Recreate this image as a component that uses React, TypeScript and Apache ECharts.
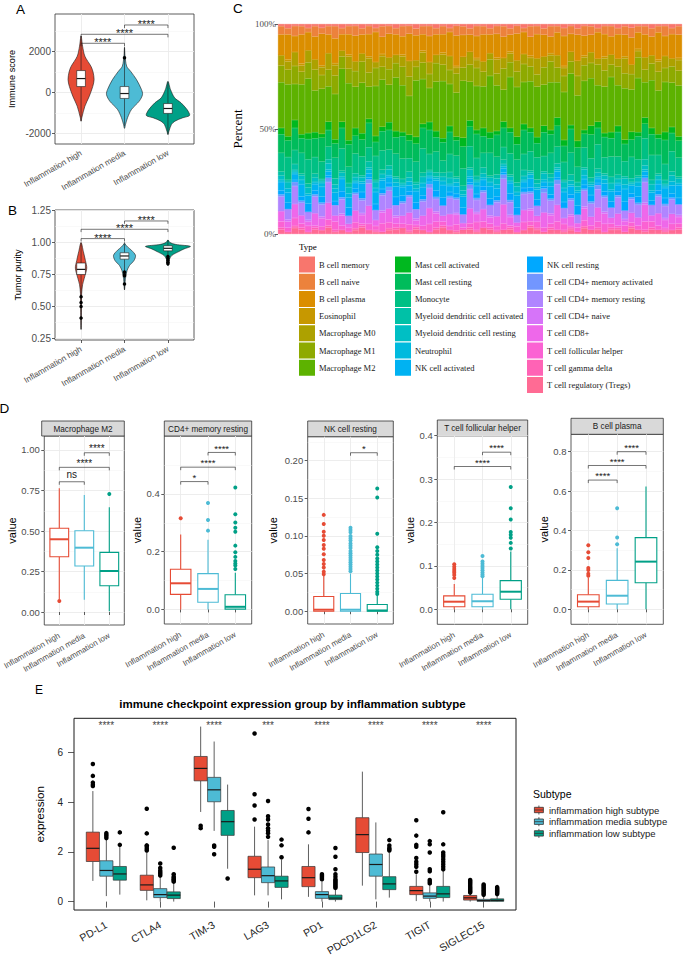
import React, { useEffect, useRef } from 'react';
import * as echarts from 'echarts';

const SANS = '"Liberation Sans", Arial, Helvetica, sans-serif';
const SERIF = '"Liberation Serif", "Times New Roman", serif';
const AXIS_TEXT = '#4D4D4D';

// ---------------- shared groups ----------------
const GROUPS = ['Inflammation high', 'Inflammation media', 'Inflammation low'];
const GROUP_COLORS = ['#E64B35', '#4DBBD5', '#00A087'];
const GROUP_X = [1, 2, 3];

// ---------------- Panel A : immune score ----------------
const A_Y_MAJOR = [-2000, 0, 2000];
const A_Y_MINOR = [-1000, 1000, 3000];
const A_VIOLIN_Y = [
  [2750, 2260, 1770, 1270, 1000, 630, 300, -180, -670, -1220, -1400],
  [2200, 1800, 1280, 1040, 630, 150, -100, -420, -830, -1230, -1560, -1750],
  [540, 150, -260, -500, -830, -1070, -1150, -1230, -1400, -1560, -1890, -2050],
];
const A_VIOLIN_W = [
  [0, 0.035, 0.088, 0.23, 0.276, 0.3, 0.27, 0.19, 0.088, 0.018, 0],
  [0, 0.012, 0.05, 0.138, 0.276, 0.39, 0.415, 0.34, 0.16, 0.07, 0.023, 0],
  [0, 0.058, 0.154, 0.3, 0.44, 0.5, 0.484, 0.346, 0.16, 0.08, 0.023, 0],
];
const A_BOX = [
  [-1400, 290, 680, 1070, 2750],
  [-1640, -290, -50, 290, 2200],
  [-2050, -1020, -780, -540, 540],
];
const A_OUTLIERS = [[], [1700], []];
const A_SIG_PAIRS = [[1, 2], [1, 3], [2, 3]];
const A_SIG_Y = [2400, 2839, 3293];
const A_SIG_LABELS = ['****', '****', '****'];

// ---------------- Panel B : tumor purity ----------------
const B_Y_MAJOR = [0.25, 0.5, 0.75, 1.0, 1.25];
const B_Y_MINOR = [0.375, 0.625, 0.875, 1.125];
const B_VIOLIN_Y = [
  [1.0, 0.93, 0.86, 0.8, 0.72, 0.67, 0.6, 0.45, 0.32],
  [1.0, 0.99, 0.966, 0.94, 0.9, 0.86, 0.82, 0.78, 0.72, 0.63],
  [1.02, 1.0, 0.985, 0.97, 0.95, 0.93, 0.9, 0.87, 0.82],
];
const B_VIOLIN_W = [
  [0, 0.053, 0.1, 0.131, 0.074, 0.035, 0.014, 0.007, 0],
  [0, 0.01, 0.07, 0.16, 0.253, 0.22, 0.115, 0.058, 0.023, 0],
  [0, 0.046, 0.184, 0.518, 0.37, 0.253, 0.092, 0.035, 0],
];
const B_BOX = [
  [0.32, 0.75, 0.79, 0.84, 1.0],
  [0.63, 0.87, 0.895, 0.92, 0.99],
  [0.82, 0.935, 0.955, 0.975, 1.02],
];
const B_OUTLIERS = [[0.575, 0.53, 0.5, 0.41], [0.676, 0.74, 0.75, 0.77], [0.89, 0.875, 0.86, 0.845, 0.835]];
const B_SIG_PAIRS = [[1, 2], [1, 3], [2, 3]];
const B_SIG_Y = [1.031, 1.104, 1.169];
const B_SIG_LABELS = ['****', '****', '****'];

// ---------------- Panel C : cell fractions ----------------
const C_TYPES = [
  'B cell memory', 'B cell naive', 'B cell plasma', 'Eosinophil', 'Macrophage M0', 'Macrophage M1', 'Macrophage M2',
  'Mast cell activated', 'Mast cell resting', 'Monocyte', 'Myeloid dendritic cell activated', 'Myeloid dendritic cell resting', 'Neutrophil', 'NK cell activated',
  'NK cell resting', 'T cell CD4+ memory activated', 'T cell CD4+ memory resting', 'T cell CD4+ naive', 'T cell CD8+', 'T cell follicular helper', 'T cell gamma delta', 'T cell regulatory (Tregs)',
];
const C_COLORS = [
  '#F8766D', '#EC823C', '#DB8E00', '#C79800', '#ADA100', '#8EAA00', '#5DB200',
  '#00B81F', '#00BC5B', '#00C084', '#00C1A7', '#00BFC4', '#00BADE', '#00B2F2',
  '#00A8FF', '#7296FF', '#B085FF', '#D674F9', '#EE68EA', '#FB62D3', '#FF63B5', '#FF6B94',
];
const C_Y_LABELS = [0, 50, 100];
const cBMemory = [1,2,1,1,2,1,2,1,1,2, 1,1,2,1,2,1,1,2,1,1, 2,1,1,2,1,2,1,1,2,1, 1,2,1,1,2,1,2,1,1,2, 1,1,2,1,2,1,1,2,1,1, 2,1,2,1,1,2,1,1,2,1];
const cBNaive = [4,3,5,4,2,5,3,4,6,3, 4,5,3,4,2,5,4,3,5,4, 3,4,5,3,4,2,5,4,3,5, 4,3,4,5,3,4,2,5,4,3, 5,3,4,4,3,5,4,2,4,5, 3,4,5,3,4,4,3,5,3,4];
const cBPlasma = [10,12,8,14,9,11,16,9,12,8, 10,13,9,11,15,8,12,10,9,14, 11,8,13,10,9,12,16,10,8,11, 13,9,12,10,8,14,11,9,12,10, 8,11,15,9,12,10,8,13,11,9, 12,10,14,8,11,9,13,10,12,11];
const cEos = [0,1,0,1,0,0,1,0,1,0, 1,0,0,1,0,1,0,0,1,0, 0,1,0,0,1,0,1,0,0,1, 0,0,1,0,1,0,0,1,0,0, 1,0,1,0,0,1,0,0,1,0, 0,1,0,1,0,0,1,0,0,1];
const cM0 = [5,4,7,3,6,5,4,8,5,3, 6,5,4,7,3,5,6,4,5,8, 3,5,6,4,5,7,3,5,6,4, 5,3,7,5,4,6,5,4,8,5, 3,6,4,5,7,4,5,3,6,5, 4,7,5,3,6,4,5,6,4,5];
const cM1 = [8,7,9,6,8,10,7,8,9,6, 7,8,10,7,9,6,8,7,9,10, 6,8,7,9,8,7,10,6,8,9, 7,8,6,10,7,8,9,7,6,8, 10,7,8,6,9,8,7,10,8,6, 9,7,8,10,6,8,9,7,8,7];
const cM2 = [22,25,18,24,27,20,23,17,22,26, 28,21,24,16,25,22,19,26,23,20, 25,22,17,24,28,21,23,26,18,22, 20,27,23,15,24,26,21,22,25,19, 23,17,24,26,21,25,22,18,23,27, 20,24,22,26,17,23,21,25,22,24];
const cMastAct = [3,2,4,2,3,3,2,4,2,3, 2,4,3,2,3,2,4,3,2,3, 3,2,4,3,2,3,2,4,3,2, 4,3,2,3,2,4,3,2,3,3, 2,4,3,2,3,2,4,3,2,3, 3,2,4,2,3,3,2,4,3,2];
const cMastRest = [9,8,11,7,10,9,12,8,7,10, 11,9,8,12,7,9,10,8,11,9, 8,10,12,7,9,11,8,10,9,12, 8,7,11,9,10,8,12,9,7,11, 9,10,8,12,9,7,11,8,10,9, 12,8,9,11,7,10,8,12,9,8];
const cMono = [9,11,7,10,12,8,9,6,10,11, 8,10,9,7,12,9,8,11,10,7, 9,12,8,10,6,9,11,8,10,9, 7,11,9,6,10,12,8,9,11,7, 10,8,9,11,7,10,9,12,8,10, 9,7,11,8,10,12,9,8,10,9];
const cMyeAct = [2,1,3,1,2,2,1,2,3,1, 2,2,1,3,1,2,2,1,2,3, 1,2,1,2,2,3,1,2,1,2, 3,1,2,2,1,2,3,1,2,1, 2,2,1,3,2,1,2,2,1,3, 2,1,2,1,3,2,1,2,2,1];
const cMyeRest = [2,3,1,2,3,2,1,3,2,2, 3,2,2,1,3,2,3,2,1,2, 2,3,2,1,2,3,2,2,3,1, 2,2,3,1,2,3,2,1,2,3, 2,1,3,2,2,3,1,2,2,3, 2,3,1,2,2,3,2,1,3,2];
const cNeut = [1,2,1,2,1,1,2,1,2,1, 2,1,1,2,2,1,1,2,1,2, 1,2,1,1,2,1,2,1,1,2, 1,2,2,1,1,2,1,2,1,1, 2,1,2,1,1,2,1,1,2,1, 1,2,1,2,1,1,2,1,2,1];
const cNKAct = [4,5,3,6,4,3,5,2,4,6, 5,3,4,2,6,4,3,5,4,3, 5,4,2,5,6,3,4,5,2,4, 3,6,4,2,5,6,3,4,5,2, 4,3,5,4,6,3,4,2,4,5, 3,6,4,5,2,4,3,5,4,6];
const cNKRest = [2,3,1,2,4,2,3,1,2,3, 4,2,3,1,3,2,2,4,3,2, 3,2,1,3,4,2,2,3,1,2, 2,3,2,1,3,4,2,2,3,1, 2,1,3,2,4,2,3,1,2,3, 2,4,2,3,1,2,2,3,2,3];
const cCD4MemAct = [1,0,2,1,0,1,1,2,0,1, 0,1,1,2,0,1,2,0,1,1, 0,1,2,1,0,1,1,0,2,1, 1,0,1,2,1,0,1,1,0,2, 1,2,0,1,0,1,1,2,1,0, 1,0,1,1,2,0,1,1,1,0];
const cCD4MemRest = [7,5,9,6,4,8,6,10,5,7, 4,8,6,11,5,7,9,5,6,8, 4,7,10,6,5,8,7,4,9,6, 8,5,7,12,6,4,8,7,5,9, 6,10,5,7,4,8,6,9,7,5, 8,4,7,6,10,5,8,6,7,5];
const cCD4Naive = [0,1,0,0,1,0,1,0,0,1, 0,0,1,0,0,1,0,1,0,0, 1,0,0,1,0,0,1,0,0,1, 0,1,0,0,1,0,0,1,0,0, 1,0,0,1,0,1,0,0,1,0, 0,1,0,0,1,0,0,1,0,1];
const cCD8 = [5,3,7,4,2,6,4,8,3,5, 2,6,4,9,3,5,7,3,4,6, 2,5,8,4,3,6,5,2,7,4, 6,3,5,9,4,2,6,5,3,7, 4,8,3,5,2,6,4,7,5,3, 6,2,5,4,8,3,6,4,5,3];
const cTfh = [3,2,4,2,3,1,2,3,4,2, 2,3,1,3,2,4,3,2,2,3, 1,2,4,3,2,2,3,1,2,4, 3,2,2,3,1,3,4,2,3,2, 2,4,3,1,2,3,2,3,4,2, 1,3,2,2,4,3,2,1,3,2];
const cTgd = [1,0,1,1,0,1,0,1,1,0, 0,1,1,0,1,0,1,1,0,1, 1,0,0,1,1,0,1,0,1,1, 0,1,1,0,1,0,0,1,1,0, 1,0,1,1,0,1,0,1,0,1, 1,0,1,0,1,1,0,1,0,1];
const cTreg = [2,1,3,2,1,2,2,3,1,2, 1,2,3,2,1,1,2,2,3,1, 2,2,1,2,3,2,1,2,2,1, 3,2,1,2,2,1,2,3,2,1, 2,2,1,2,1,3,2,2,1,2, 2,1,3,2,1,2,2,1,2,2];

// ---------------- Panel D : selected cells ----------------
const D_TITLES = ['Macrophage M2', 'CD4+ memory resting', 'NK cell resting', 'T cell follicular helper', 'B cell plasma'];
const D_BOX = [
  [[0.08, 0.341, 0.449, 0.517, 0.764], [0.075, 0.284, 0.397, 0.502, 0.722], [0.005, 0.162, 0.253, 0.368, 0.646]],
  [[0, 0.052, 0.0905, 0.139, 0.26], [0, 0.025, 0.071, 0.124, 0.241], [0, 0.001, 0.009, 0.051, 0.127]],
  [[0, 0, 0.002, 0.0195, 0.047], [0, 0, 0.002, 0.0235, 0.05], [0, 0, 0.001, 0.009, 0.021]],
  [[0, 0.006, 0.0175, 0.031, 0.058], [0, 0.006, 0.0185, 0.0345, 0.072], [0, 0.023, 0.0405, 0.066, 0.133]],
  [[0, 0.013, 0.039, 0.074, 0.16], [0, 0.027, 0.069, 0.147, 0.31], [0, 0.135, 0.242, 0.364, 0.623]],
];
const D_OUTLIERS = [
  [[0.068], [], [0.728]],
  [[0.316], [0.273, 0.31, 0.369], [0.4226, 0.33, 0.301, 0.283, 0.269, 0.221, 0.198, 0.182, 0.168, 0.159, 0.152, 0.14]],
  [
    [0.128, 0.116, 0.1057, 0.1004, 0.0947, 0.088, 0.083, 0.0757, 0.068, 0.0628, 0.058, 0.0526, 0.049],
    [0.111, 0.108, 0.105, 0.1, 0.097, 0.094, 0.09, 0.087, 0.084, 0.08, 0.077, 0.074, 0.071, 0.068, 0.065, 0.062, 0.059, 0.056, 0.053],
    [0.163, 0.151, 0.103, 0.085, 0.08, 0.075, 0.07, 0.066, 0.062, 0.058, 0.054, 0.05, 0.046, 0.042, 0.038, 0.034, 0.03, 0.026, 0.023],
  ],
  [[0.104, 0.098, 0.093, 0.088, 0.084, 0.079, 0.072], [0.123, 0.11, 0.105, 0.1, 0.095, 0.09, 0.085, 0.08, 0.076], [0.282, 0.233, 0.207, 0.178, 0.172, 0.165, 0.153, 0.14]],
  [[0.325, 0.29, 0.26, 0.21, 0.2, 0.18, 0.17], [0.33, 0.365, 0.513], []],
];
const D_SIG_PAIRS = [[[1, 2], [1, 3], [2, 3]], [[1, 2], [1, 3], [2, 3]], [[2, 3]], [[1, 3], [2, 3]], [[1, 2], [1, 3], [2, 3]]];
const D_SIG_Y = [[0.804, 0.893, 0.983], [0.443, 0.493, 0.544], [0.2106], [0.329, 0.362], [0.656, 0.73, 0.8]];
const D_SIG_LABELS = [['ns', '****', '****'], ['*', '****', '****'], ['*'], ['****', '****'], ['****', '****', '****']];
const D_Y_MAJOR = [[0, 0.25, 0.5, 0.75, 1], [0, 0.2, 0.4], [0, 0.05, 0.1, 0.15, 0.2], [0, 0.1, 0.2, 0.3, 0.4], [0, 0.2, 0.4, 0.6, 0.8]];
const D_Y_MINOR = [[0.125, 0.375, 0.625, 0.875], [0.1, 0.3, 0.5], [0.025, 0.075, 0.125, 0.175, 0.225], [0.05, 0.15, 0.25, 0.35], [0.1, 0.3, 0.5, 0.7]];
const D_Y_DIGITS = [2, 1, 2, 1, 1];

// ---------------- Panel E : immune checkpoints ----------------
const E_GENES = ['PD-L1', 'CTLA4', 'TIM-3', 'LAG3', 'PD1', 'PDCD1LG2', 'TIGIT', 'SIGLEC15'];
const E_SUBTYPES = ['inflammation high subtype', 'inflammation media subtype', 'inflammation low subtype'];
const E_Y_MAJOR = [0, 2, 4, 6];
const E_BOX_HIGH = [
  [0.83, 1.61, 2.14, 2.79, 4.44], [0.05, 0.45, 0.67, 1.06, 1.97], [3.6, 4.85, 5.35, 5.83, 7.03], [0.25, 0.96, 1.3, 1.82, 3.01],
  [0.19, 0.6, 0.96, 1.41, 2.3], [0.64, 1.97, 2.69, 3.37, 5.22], [0.02, 0.28, 0.44, 0.61, 1.1], [0, 0.06, 0.15, 0.245, 0.33],
];
const E_BOX_MEDIA = [
  [0.22, 1.02, 1.25, 1.64, 2.5], [0, 0.16, 0.28, 0.52, 1.0], [2.84, 4.01, 4.49, 4.99, 6.43], [0.25, 0.76, 1.04, 1.39, 2.47],
  [0, 0.13, 0.28, 0.4, 0.8], [0.09, 1.02, 1.49, 1.91, 3.18], [0, 0.13, 0.22, 0.35, 0.66], [0, 0.01, 0.04, 0.09, 0.2],
];
const E_BOX_LOW = [
  [0.28, 0.86, 1.11, 1.41, 2.2], [0, 0.12, 0.26, 0.39, 0.78], [1.32, 2.66, 3.21, 3.66, 4.7], [0.09, 0.57, 0.83, 1.02, 1.69],
  [0, 0.08, 0.14, 0.26, 0.52], [0.16, 0.48, 0.71, 1.0, 1.97], [0, 0.16, 0.31, 0.61, 1.26], [0, 0.01, 0.05, 0.11, 0.25],
];
const E_OUT_HIGH = [
  [5.53, 5.05, 4.78, 4.7, 4.64], [3.73, 2.74, 2.26, 2.2, 2.12, 2.05], [3.05, 2.95], [6.75, 4.31, 3.86, 3.3],
  [3.72, 3.33, 2.78], [], [3.27, 2.65, 2.28, 2.2, 1.75, 1.6, 1.5, 1.4, 1.2], [0.87, 0.82, 0.77, 0.72, 0.66, 0.6, 0.55, 0.5, 0.45, 0.4, 0.36],
];
const E_OUT_MEDIA = [
  [2.75, 2.68, 2.62, 2.55], [1.53, 1.35, 1.25, 1.18, 1.12, 1.05], [2.25, 2.2, 1.9], [4.04, 3.43, 3.3, 3.1, 2.95, 2.85, 2.75, 2.6],
  [1.1, 1.05, 1.0, 0.95, 0.9], [], [2.43, 2.3, 1.97, 1.3, 1.22, 0.87, 0.8, 0.73], [0.69, 0.64, 0.58, 0.53, 0.47, 0.42, 0.37, 0.32, 0.27],
];
const E_OUT_LOW = [
  [2.78, 2.28], [2.16, 1.1, 1.0, 0.95, 0.9, 0.85, 0.8], [0.93], [2.49, 2.26, 1.78],
  [2.15, 1.8, 1.3, 1.1, 1.0, 0.9, 0.85, 0.8, 0.75, 0.7, 0.65, 0.6, 0.55], [2.47, 2.25, 2.15, 2.1, 2.05],
  [3.59, 2.3, 1.97, 1.88, 1.8, 1.7, 1.6, 1.5, 1.4, 1.3], [0.58, 0.54, 0.5, 0.46, 0.42, 0.38, 0.34, 0.3],
];
const E_SIG_LABELS = ['****', '****', '****', '***', '****', '****', '****', '****'];
const E_SIG_Y = 7.17;

// ---------------- layout (pixels) ----------------
const D_LAYOUT = [
  { l: 41.7, r: 124.3, t: 436, b: 625, ymin: -0.0802, ymax: 1.0864, st: 421, gap: 26.2 },
  { l: 164.3, r: 251.7, t: 436, b: 624, ymin: -0.0506, ymax: 0.601, st: 421, gap: 20 },
  { l: 307.7, r: 393.3, t: 436.7, b: 624, ymin: -0.017, ymax: 0.2319, st: 421, gap: 28.9 },
  { l: 437.3, r: 527.7, t: 435.7, b: 624.3, ymin: -0.0346, ymax: 0.4, st: 420, gap: 20.1 },
  { l: 571, r: 663.3, t: 434.3, b: 624.3, ymin: -0.0761, ymax: 0.8883, st: 418.3, gap: 22 },
];

function buildOption() {
  const grid: any[] = [];
  const xAxis: any[] = [];
  const yAxis: any[] = [];
  const series: any[] = [];
  const graphic: any[] = [];

  const addPanel = (s: any) => {
    const gi = grid.length;
    grid.push({
      left: s.l, top: s.t, width: s.r - s.l, height: s.b - s.t, show: true,
      backgroundColor: '#FFFFFF', borderColor: s.border, borderWidth: s.borderWidth,
    });
    const xi = xAxis.length;
    xAxis.push({
      gridIndex: gi, type: 'value', min: s.xmin, max: s.xmax,
      axisLine: { show: false },
      axisTick: { show: true, customValues: s.xTicks, length: s.tickLen, lineStyle: { color: '#333333', width: 0.8 } },
      axisLabel: {
        customValues: s.xTicks, formatter: (v: number) => s.xLabels[Math.round(v) - 1] || '',
        rotate: s.xRotate, fontSize: s.xFont, color: s.xColor, margin: s.xMargin, fontFamily: SANS,
      },
      splitLine: { show: s.grid, customValues: s.xTicks, lineStyle: { color: '#EBEBEB', width: 0.9 } },
    });
    yAxis.push({
      gridIndex: gi, type: 'value', position: 'left', min: s.ymin, max: s.ymax,
      axisLine: { show: false },
      axisTick: { show: false, customValues: s.yMinor },
      axisLabel: { show: false, customValues: s.yMinor },
      splitLine: { show: s.grid && s.yMinor.length > 0, customValues: s.yMinor, lineStyle: { color: '#F2F2F2', width: 0.5 } },
    });
    const yi = yAxis.length;
    yAxis.push({
      gridIndex: gi, type: 'value', position: 'left', min: s.ymin, max: s.ymax,
      name: s.yName, nameLocation: 'middle', nameGap: s.yNameGap,
      nameTextStyle: { fontSize: s.yNameFont, color: '#000000', fontFamily: SANS },
      axisLine: { show: false },
      axisTick: { show: true, customValues: s.yMajor, length: s.tickLen, lineStyle: { color: '#333333', width: 0.8 } },
      axisLabel: { customValues: s.yMajor, formatter: s.yFmt, fontSize: s.yFont, color: s.yColor, margin: s.yMargin, fontFamily: SANS },
      splitLine: { show: s.grid, customValues: s.yMajor, lineStyle: { color: '#EBEBEB', width: 0.9 } },
    });
    return { xi, yi };
  };

  const violinSeries = (p: any, ys: number[][], ws: number[][]) => ({
    type: 'custom', xAxisIndex: p.xi, yAxisIndex: p.yi, silent: true,
    data: GROUP_X.map((x) => [x, 0]),
    renderItem: (params: any, api: any) => {
      const i = params.dataIndex;
      const x = api.value(0);
      const pts: number[][] = ys[i].map((y, k) => api.coord([x + ws[i][k], y]));
      for (let k = ys[i].length - 1; k >= 0; k--) {
        if (ws[i][k] > 0) pts.push(api.coord([x - ws[i][k], ys[i][k]]));
      }
      return { type: 'polygon', shape: { points: pts, smooth: 0.3 }, style: { fill: GROUP_COLORS[i], stroke: '#1A1A1A', lineWidth: 0.6 } };
    },
  });

  const boxSeries = (p: any, xs: number[], stats: number[][], hw: number, st: (i: number) => any, extra: any = {}) => ({
    type: 'custom', xAxisIndex: p.xi, yAxisIndex: p.yi, silent: true,
    data: stats.map((s, i) => [xs[i], ...s]),
    renderItem: (params: any, api: any) => {
      const x = api.value(0);
      const lo = api.value(1), q1 = api.value(2), md = api.value(3), q3 = api.value(4), hi = api.value(5);
      const s = st(params.dataIndex);
      const pLo = api.coord([x, lo]), pQ1 = api.coord([x, q1]), pQ3 = api.coord([x, q3]), pHi = api.coord([x, hi]);
      const a = api.coord([x - hw, q3]), b = api.coord([x + hw, q1]);
      const m1 = api.coord([x - hw, md]), m2 = api.coord([x + hw, md]);
      return {
        type: 'group',
        children: [
          { type: 'line', shape: { x1: pLo[0], y1: pLo[1], x2: pQ1[0], y2: pQ1[1] }, style: { stroke: s.line, lineWidth: s.lw } },
          { type: 'line', shape: { x1: pQ3[0], y1: pQ3[1], x2: pHi[0], y2: pHi[1] }, style: { stroke: s.line, lineWidth: s.lw } },
          { type: 'rect', shape: { x: a[0], y: a[1], width: b[0] - a[0], height: b[1] - a[1] }, style: { fill: s.fill, stroke: s.border, lineWidth: s.lw } },
          { type: 'line', shape: { x1: m1[0], y1: m1[1], x2: m2[0], y2: m2[1] }, style: { stroke: s.median, lineWidth: s.mlw } },
        ],
      };
    },
    ...extra,
  });

  const pointSeries = (p: any, pts: number[][], color: string, size: number) => ({
    type: 'scatter', xAxisIndex: p.xi, yAxisIndex: p.yi, silent: true,
    symbol: 'circle', symbolSize: size, itemStyle: { color, opacity: 1 }, data: pts, z: 4,
  });

  const bracketSeries = (p: any, pairs: number[][], ys: number[], labels: string[], tip: number, fs: number, gapPx: number) => ({
    type: 'custom', xAxisIndex: p.xi, yAxisIndex: p.yi, silent: true, z: 6,
    data: pairs.map((pr, i) => [pr[0], pr[1], ys[i]]),
    renderItem: (params: any, api: any) => {
      const lab = labels[params.dataIndex];
      const x1 = api.value(0), x2 = api.value(1), y = api.value(2);
      const p1 = api.coord([x1, y]), p2 = api.coord([x2, y]);
      const d1 = api.coord([x1, y - tip]), d2 = api.coord([x2, y - tip]);
      const ast = lab.indexOf('*') >= 0;
      const ctr = p1[1] - gapPx;
      const ty = ast ? ctr + 0.23 * fs : ctr - 0.09 * fs;
      return {
        type: 'group',
        children: [
          { type: 'polyline', shape: { points: [d1, p1, p2, d2] }, style: { stroke: '#1A1A1A', lineWidth: 0.6, fill: 'none' } },
          {
            type: 'text', x: (p1[0] + p2[0]) / 2, y: ty,
            style: { text: lab, fontSize: fs, fontFamily: SANS, fill: '#1A1A1A', align: 'center', verticalAlign: 'middle', textAlign: 'center', textVerticalAlign: 'middle' },
          },
        ],
      };
    },
  });

  const outlierPoints = (xs: number[], outs: number[][]) => {
    const pts: number[][] = [];
    outs.forEach((arr, i) => arr.forEach((v) => pts.push([xs[i], v])));
    return pts;
  };

  // ---------- Panel A ----------
  const pa = addPanel({
    l: 55, r: 194, t: 14, b: 144, xmin: 0.4, xmax: 3.6, ymin: -2512, ymax: 3829,
    xTicks: GROUP_X, xLabels: GROUPS, xFont: 8.3, xMargin: 8, xColor: AXIS_TEXT, xRotate: 30,
    yMajor: A_Y_MAJOR, yMinor: A_Y_MINOR, yFmt: (v: number) => String(v), yFont: 10, yColor: AXIS_TEXT, yMargin: 4,
    yName: 'Immune score', yNameGap: 38.7, yNameFont: 9.2, grid: true, border: '#333333', borderWidth: 0.8, tickLen: 3,
  });
  series.push(violinSeries(pa, A_VIOLIN_Y, A_VIOLIN_W));
  const abStyle = () => ({ fill: '#FFFFFF', border: '#1A1A1A', line: '#1A1A1A', lw: 0.6, median: '#1A1A1A', mlw: 1.2 });
  series.push(boxSeries(pa, GROUP_X, A_BOX, 0.1, abStyle));
  series.push(pointSeries(pa, outlierPoints(GROUP_X, A_OUTLIERS), '#000000', 3.5));
  series.push(bracketSeries(pa, A_SIG_PAIRS, A_SIG_Y, A_SIG_LABELS, 150, 11, 3.5));

  // ---------- Panel B ----------
  const pb = addPanel({
    l: 55, r: 194, t: 210, b: 340, xmin: 0.4, xmax: 3.6, ymin: 0.237, ymax: 1.255,
    xTicks: GROUP_X, xLabels: GROUPS, xFont: 8.3, xMargin: 8, xColor: AXIS_TEXT, xRotate: 30,
    yMajor: B_Y_MAJOR, yMinor: B_Y_MINOR, yFmt: (v: number) => v.toFixed(2), yFont: 10, yColor: AXIS_TEXT, yMargin: 4,
    yName: 'Tumor purity', yNameGap: 32.9, yNameFont: 9.2, grid: true, border: '#333333', borderWidth: 0.8, tickLen: 3,
  });
  series.push(violinSeries(pb, B_VIOLIN_Y, B_VIOLIN_W));
  series.push(boxSeries(pb, GROUP_X, B_BOX, 0.1, abStyle));
  series.push(pointSeries(pb, outlierPoints(GROUP_X, B_OUTLIERS), '#000000', 3.5));
  series.push(bracketSeries(pb, B_SIG_PAIRS, B_SIG_Y, B_SIG_LABELS, 0.022, 11, 3.5));

  // ---------- Panel C ----------
  const cData = [cBMemory, cBNaive, cBPlasma, cEos, cM0, cM1, cM2, cMastAct, cMastRest, cMono, cMyeAct, cMyeRest, cNeut, cNKAct,
    cNKRest, cCD4MemAct, cCD4MemRest, cCD4Naive, cCD8, cTfh, cTgd, cTreg];
  const nSamples = cBMemory.length;
  const totals = cBMemory.map((_, j) => cData.reduce((acc, arr) => acc + arr[j], 0));
  const cgi = grid.length;
  grid.push({ left: 278, top: 24, width: 404, height: 210, show: false });
  const cxi = xAxis.length;
  xAxis.push({ gridIndex: cgi, type: 'category', data: cBMemory.map((_, j) => 'S' + (j + 1)), show: false, boundaryGap: true });
  const cyi = yAxis.length;
  yAxis.push({
    gridIndex: cgi, type: 'value', min: 0, max: 100, interval: 50,
    name: 'Percent', nameLocation: 'middle', nameGap: 24.8, nameTextStyle: { fontFamily: SERIF, fontSize: 13, color: '#000000' },
    axisLine: { show: false }, splitLine: { show: false },
    axisTick: { show: true, customValues: C_Y_LABELS, length: 3, lineStyle: { color: '#333333', width: 0.8 } },
    axisLabel: { customValues: C_Y_LABELS, formatter: (v: number) => v + '%', fontFamily: SERIF, fontSize: 9, color: AXIS_TEXT, margin: 2 },
  });
  for (let k = C_TYPES.length - 1; k >= 0; k--) {
    series.push({
      type: 'bar', name: C_TYPES[k], stack: 'cells', xAxisIndex: cxi, yAxisIndex: cyi, silent: true,
      barCategoryGap: '0%', barGap: '0%',
      itemStyle: { color: C_COLORS[k], borderColor: C_COLORS[k], borderWidth: 0.3 },
      data: cData[k].map((v, j) => (v / totals[j]) * 100),
    });
  }
  void nSamples;

  // ---------- Panel D ----------
  D_LAYOUT.forEach((L, d) => {
    const digits = D_Y_DIGITS[d];
    const pd = addPanel({
      l: L.l, r: L.r, t: L.t, b: L.b, xmin: 0.4, xmax: 3.6, ymin: L.ymin, ymax: L.ymax,
      xTicks: GROUP_X, xLabels: GROUPS, xFont: 8, xMargin: 10, xColor: AXIS_TEXT, xRotate: 30,
      yMajor: D_Y_MAJOR[d], yMinor: D_Y_MINOR[d], yFmt: (v: number) => v.toFixed(digits), yFont: 9.5, yColor: AXIS_TEXT, yMargin: 4.5,
      yName: 'value', yNameGap: L.gap, yNameFont: 11, grid: true, border: '#333333', borderWidth: 0.8, tickLen: 3,
    });
    const span = L.ymax - L.ymin;
    series.push(boxSeries(pd, GROUP_X, D_BOX[d], 0.375, (i: number) => ({
      fill: '#FFFFFF', border: GROUP_COLORS[i], line: GROUP_COLORS[i], lw: 1.1, median: GROUP_COLORS[i], mlw: 2,
    })));
    D_OUTLIERS[d].forEach((arr, i) => {
      series.push(pointSeries(pd, arr.map((v) => [GROUP_X[i], v]), GROUP_COLORS[i], 4));
    });
    series.push(bracketSeries(pd, D_SIG_PAIRS[d], D_SIG_Y[d], D_SIG_LABELS[d], span * 0.016, D_SIG_LABELS[d][0] === 'ns' ? 10 : 9.5, 6.5));
    graphic.push({
      type: 'rect', shape: { x: L.l, y: L.st, width: L.r - L.l, height: L.t - L.st },
      style: { fill: '#D9D9D9', stroke: '#333333', lineWidth: 0.8 }, silent: true,
    });
    graphic.push({
      type: 'text', x: (L.l + L.r) / 2, y: (L.st + L.t) / 2 + 0.5,
      style: { text: D_TITLES[d], fontSize: 8.2, fontFamily: SANS, fill: '#1A1A1A', textAlign: 'center', textVerticalAlign: 'middle', align: 'center', verticalAlign: 'middle' },
      silent: true,
    });
  });

  // ---------- Panel E ----------
  const E_X = E_GENES.map((_, i) => i + 1);
  const pe = addPanel({
    l: 74, r: 516, t: 718.3, b: 916, xmin: 0.4, xmax: 8.6, ymin: -0.339, ymax: 7.363,
    xTicks: E_X, xLabels: E_GENES, xFont: 10.5, xMargin: 14, xColor: '#222222', xRotate: 30,
    yMajor: E_Y_MAJOR, yMinor: [], yFmt: (v: number) => String(v), yFont: 10, yColor: '#222222', yMargin: 11,
    yName: 'expression', yNameGap: 29, yNameFont: 11.7, grid: false, border: '#1A1A1A', borderWidth: 1, tickLen: 6,
  });
  const eBoxes = [E_BOX_HIGH, E_BOX_MEDIA, E_BOX_LOW];
  const eOuts = [E_OUT_HIGH, E_OUT_MEDIA, E_OUT_LOW];
  const offsets = [-0.25, 0, 0.25];
  eBoxes.forEach((stats, s) => {
    const xs = E_X.map((x) => x + offsets[s]);
    series.push(boxSeries(pe, xs, stats, 0.122, () => ({
      fill: GROUP_COLORS[s], border: '#333333', line: '#1A1A1A', lw: 0.7, median: '#1A1A1A', mlw: 1.2,
    }), { name: E_SUBTYPES[s], itemStyle: { color: GROUP_COLORS[s] } }));
  });
  eOuts.forEach((outs, s) => {
    const xs = E_X.map((x) => x + offsets[s]);
    series.push(pointSeries(pe, outlierPoints(xs, outs), '#000000', 4.5));
  });
  series.push({
    type: 'custom', xAxisIndex: pe.xi, yAxisIndex: pe.yi, silent: true, z: 6,
    data: E_X.map((x) => [x, E_SIG_Y]),
    renderItem: (params: any, api: any) => {
      const pt = api.coord([api.value(0), api.value(1)]);
      return {
        type: 'text', x: pt[0], y: pt[1] + 2.3,
        style: { text: E_SIG_LABELS[params.dataIndex], fontSize: 10, fontFamily: SANS, fill: '#444444', align: 'center', verticalAlign: 'middle', textAlign: 'center', textVerticalAlign: 'middle' },
      };
    },
  });

  // ---------- texts ----------
  const txt = (text: string, x: number, y: number, fs: number, extra: any = {}) => ({
    type: 'text', x, y, silent: true,
    style: { text, fontSize: fs, fontFamily: SANS, fill: '#000000', textAlign: 'left', textVerticalAlign: 'middle', align: 'left', verticalAlign: 'middle', ...extra },
  });
  graphic.push(txt('A', 16, 9.5, 13.5));
  graphic.push(txt('B', 8, 210, 13.5));
  graphic.push(txt('C', 233, 8.5, 13.5));
  graphic.push(txt('D', -0.5, 408.3, 13.5));
  graphic.push(txt('E', 35, 690.3, 12));
  graphic.push(txt('Type', 299, 247, 9, { fontFamily: SERIF }));
  graphic.push(txt('immune checkpoint expression group by inflammation subtype', 292.5, 704.3, 11.5, { fontWeight: 'bold', textAlign: 'center', align: 'center' }));
  graphic.push(txt('Subtype', 533, 794, 10.5));

  const legendCols = [C_TYPES.slice(0, 7), C_TYPES.slice(7, 14), C_TYPES.slice(14)];
  const legendX = [299, 395, 527];
  const legend: any[] = legendCols.map((names, i) => ({
    data: names, left: legendX[i], top: 256.5, orient: 'vertical', padding: 0,
    itemWidth: 14, itemHeight: 14, itemGap: 1.2, icon: 'rect', selectedMode: false,
    textStyle: { fontFamily: SERIF, fontSize: 8.5, color: '#1A1A1A' },
  }));
  legend.push({
    data: E_SUBTYPES, left: 534, top: 805, orient: 'vertical', padding: 0,
    itemWidth: 10, itemHeight: 9, itemGap: 1.7, selectedMode: false,
    icon: 'path://M5,0L5,2M0,2L10,2L10,8L0,8ZM0,5L10,5M5,8L5,10',
    itemStyle: { borderColor: '#333333', borderWidth: 0.8 },
    textStyle: { fontFamily: SANS, fontSize: 9.5, color: '#1A1A1A' },
  });

  return {
    animation: false,
    backgroundColor: '#FFFFFF',
    textStyle: { fontFamily: SANS },
    grid, xAxis, yAxis, series, legend,
    graphic: { elements: graphic },
  };
}

export default function App() {
  const ref = useRef<HTMLDivElement>(null);
  useEffect(() => {
    if (!ref.current) return;
    const chart = echarts.init(ref.current, null, { renderer: 'svg', width: 685, height: 958 });
    chart.setOption(buildOption() as any);
    return () => chart.dispose();
  }, []);
  return <div ref={ref} style={{ position: 'absolute', left: 0, top: 0, width: 685, height: 958, background: '#FFFFFF' }} />;
}
